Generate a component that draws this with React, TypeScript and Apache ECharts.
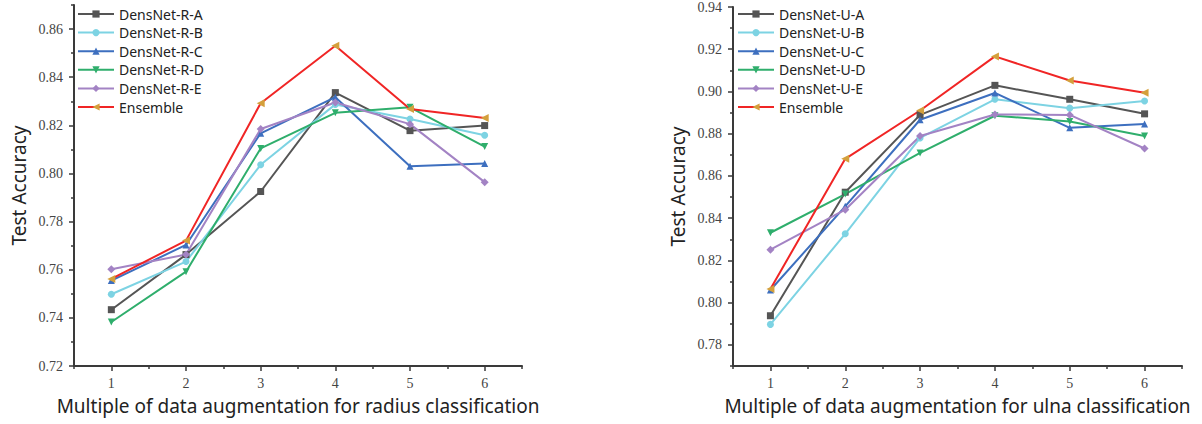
import React, { useEffect, useRef } from "react";
import * as echarts from "echarts";

const multiples = [1, 2, 3, 4, 5, 6];

const radiusNames = ["DensNet-R-A", "DensNet-R-B", "DensNet-R-C", "DensNet-R-D", "DensNet-R-E", "Ensemble"];
const radiusA = [0.7434, 0.7663, 0.7925, 0.8336, 0.8178, 0.8199];
const radiusB = [0.7498, 0.7634, 0.8036, 0.8287, 0.8226, 0.8159];
const radiusC = [0.7555, 0.7703, 0.8167, 0.8317, 0.803, 0.8041];
const radiusD = [0.7383, 0.7592, 0.8104, 0.8252, 0.8275, 0.8112];
const radiusE = [0.7602, 0.7663, 0.8185, 0.8295, 0.8205, 0.7964];
const radiusEns = [0.7562, 0.7721, 0.8292, 0.8531, 0.8268, 0.823];

const ulnaNames = ["DensNet-U-A", "DensNet-U-B", "DensNet-U-C", "DensNet-U-D", "DensNet-U-E", "Ensemble"];
const ulnaA = [0.7938, 0.8523, 0.8889, 0.9029, 0.8963, 0.8894];
const ulnaB = [0.7897, 0.8326, 0.878, 0.8963, 0.8921, 0.8955];
const ulnaC = [0.806, 0.8456, 0.8866, 0.8993, 0.8828, 0.8846];
const ulnaD = [0.8331, 0.8514, 0.8709, 0.8885, 0.8858, 0.8789];
const ulnaE = [0.8251, 0.844, 0.8789, 0.8891, 0.8889, 0.873];
const ulnaEns = [0.8065, 0.8681, 0.891, 0.9166, 0.9052, 0.8994];

const xMajorTicks = [1, 2, 3, 4, 5, 6];
const xMinorTicks = [0.5, 1.5, 2.5, 3.5, 4.5, 5.5, 6.5];
const radiusYMajor = [0.72, 0.74, 0.76, 0.78, 0.8, 0.82, 0.84, 0.86];
const radiusYMinor = [0.73, 0.75, 0.77, 0.79, 0.81, 0.83, 0.85, 0.87];
const ulnaYMajor = [0.78, 0.8, 0.82, 0.84, 0.86, 0.88, 0.9, 0.92, 0.94];
const ulnaYMinor = [0.77, 0.79, 0.81, 0.83, 0.85, 0.87, 0.89, 0.91, 0.93];

const colors = ["#555555", "#7dd3e3", "#3d6fbf", "#2fae6c", "#a383c4", "#f02525"];
const markerColors = ["#555555", "#7dd3e3", "#3d6fbf", "#2fae6c", "#a383c4", "#d4a03c"];
const symbols = [
  "rect",
  "circle",
  "triangle",
  "path://M0,0L10,0L5,10Z",
  "diamond",
  "path://M0,5L10,0L10,10Z",
];
const symbolSizes = [7, 7, 7, 7, 8, 8];

const sansFont = "Noto Sans";
const serifFont = "Liberation Serif";
const axisColor = "#3a3a3a";

function buildSeries(names: string[], values: number[][], gridIdx: number) {
  return names.map((name, i) => ({
    name,
    type: "line",
    xAxisIndex: gridIdx * 2,
    yAxisIndex: gridIdx * 2,
    data: multiples.map((m, j) => [m, values[i][j]]),
    symbol: symbols[i],
    symbolSize: symbolSizes[i],
    showSymbol: true,
    lineStyle: { color: colors[i], width: 2 },
    itemStyle: { color: markerColors[i] },
    emphasis: { disabled: true },
  }));
}

function axesFor(gridIdx: number, yMin: number, yMax: number, yMajor: number[], yMinor: number[], xName: string) {
  const xMain = {
    gridIndex: gridIdx,
    type: "value",
    position: "bottom",
    min: 0.5,
    max: 6.5,
    name: xName,
    nameLocation: "middle",
    nameGap: 30,
    nameTextStyle: { fontFamily: sansFont, fontSize: 19, color: "#222" },
    axisLine: { show: true, onZero: false, lineStyle: { color: axisColor, width: 2 } },
    axisTick: { show: true, customValues: xMajorTicks, length: 5, lineStyle: { color: axisColor, width: 1.5 } },
    axisLabel: {
      customValues: xMajorTicks,
      margin: 10,
      fontFamily: serifFont,
      fontSize: 14,
      color: "#444",
      formatter: (v: number) => String(v),
    },
    splitLine: { show: false },
  };
  const xMinor = {
    gridIndex: gridIdx,
    type: "value",
    position: "bottom",
    min: 0.5,
    max: 6.5,
    axisLine: { show: false, onZero: false },
    axisTick: { show: true, customValues: xMinorTicks, length: 3, lineStyle: { color: axisColor, width: 1.5 } },
    axisLabel: { show: false },
    splitLine: { show: false },
  };
  const yMain = {
    gridIndex: gridIdx,
    type: "value",
    position: "left",
    min: yMin,
    max: yMax,
    name: "Test Accuracy",
    nameLocation: "middle",
    nameGap: 46,
    nameTextStyle: { fontFamily: sansFont, fontSize: 19, color: "#222" },
    axisLine: { show: true, onZero: false, lineStyle: { color: axisColor, width: 2 } },
    axisTick: { show: true, customValues: yMajor, length: 5, lineStyle: { color: axisColor, width: 1.5 } },
    axisLabel: {
      customValues: yMajor,
      margin: 11,
      fontFamily: serifFont,
      fontSize: 14,
      color: "#444",
      formatter: (v: number) => v.toFixed(2),
    },
    splitLine: { show: false },
  };
  const yMinorAxis = {
    gridIndex: gridIdx,
    type: "value",
    position: "left",
    min: yMin,
    max: yMax,
    axisLine: { show: false, onZero: false },
    axisTick: { show: true, customValues: yMinor, length: 3, lineStyle: { color: axisColor, width: 1.5 } },
    axisLabel: { show: false },
    splitLine: { show: false },
  };
  return { x: [xMain, xMinor], y: [yMain, yMinorAxis] };
}

export default function App() {
  const ref = useRef<HTMLDivElement>(null);
  useEffect(() => {
    document.body.style.margin = "0";
    if (!ref.current) return;
    const chart = echarts.init(ref.current, undefined, { renderer: "svg" });
    const a0 = axesFor(0, 0.72, 0.87, radiusYMajor, radiusYMinor, "Multiple of data augmentation for radius classification");
    const a1 = axesFor(1, 0.77, 0.94, ulnaYMajor, ulnaYMinor, "Multiple of data augmentation for ulna classification");
    const legendCommon = {
      orient: "vertical",
      padding: 0,
      itemWidth: 36,
      itemHeight: 9,
      itemGap: 4.6,
      textStyle: { fontFamily: sansFont, fontSize: 14, color: "#222", lineHeight: 14 },
    };
    chart.setOption({
      animation: false,
      backgroundColor: "#ffffff",
      grid: [
        { left: 74, top: 5, width: 448, height: 361 },
        { left: 733, top: 4, width: 449, height: 362 },
      ],
      legend: [
        { ...legendCommon, left: 77, top: 7, data: radiusNames },
        { ...legendCommon, left: 737, top: 7, data: ulnaNames },
      ],
      xAxis: [...a0.x, ...a1.x],
      yAxis: [...a0.y, ...a1.y],
      series: [
        ...buildSeries(radiusNames, [radiusA, radiusB, radiusC, radiusD, radiusE, radiusEns], 0),
        ...buildSeries(ulnaNames, [ulnaA, ulnaB, ulnaC, ulnaD, ulnaE, ulnaEns], 1),
      ],
    });
    return () => chart.dispose();
  }, []);
  return <div ref={ref} style={{ width: 1202, height: 424 }} />;
}
